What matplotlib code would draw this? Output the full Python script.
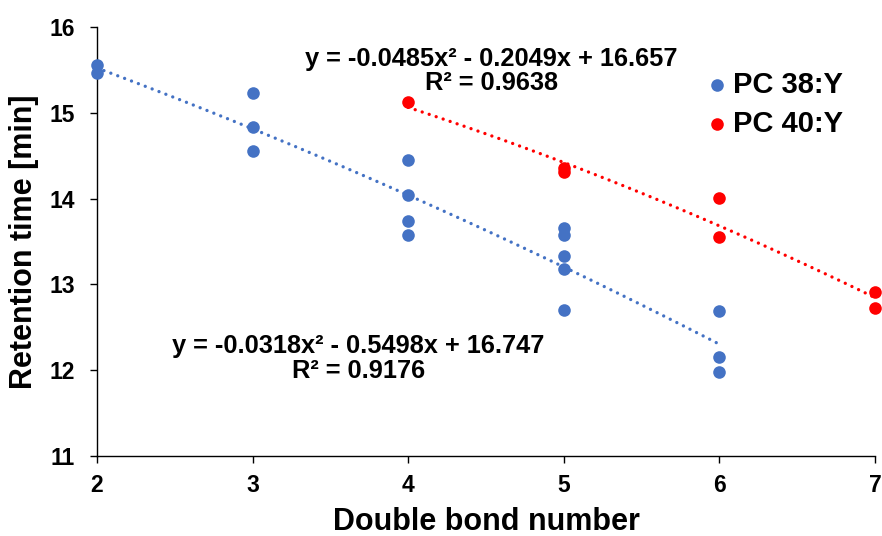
import numpy as np
import matplotlib
matplotlib.use('Agg')
from matplotlib import pyplot as plt

plt.rcParams['font.family'] = ['Liberation Sans', 'DejaVu Sans']
plt.rcParams['font.weight'] = 'bold'

# PC 38:Y
x38 = [2, 2, 3, 3, 3, 4, 4, 4, 4, 5, 5, 5, 5, 5, 6, 6, 6]
y38 = [15.56, 15.46, 15.23, 14.83, 14.55, 14.45, 14.04, 13.74, 13.57,
       13.66, 13.57, 13.33, 13.18, 12.70, 12.69, 12.15, 11.98]
# PC 40:Y
x40 = [4, 5, 5, 6, 6, 7, 7]
y40 = [15.12, 14.36, 14.31, 14.01, 13.55, 12.91, 12.73]

# trendline coefficients (from the equations on the chart)
fit38 = [-0.0318, -0.5498, 16.747]
fit40 = [-0.0485, -0.2049, 16.657]
r2_38 = 0.9176
r2_40 = 0.9638

blue = '#4472C4'
red = '#FF0000'

fig = plt.figure(figsize=(8.82, 5.36), dpi=100)
ax = fig.add_axes([0.11, 0.149, 0.882, 0.801])

dots = (0, (0.01, 2.2))
xs = np.linspace(min(x38), max(x38), 100)
ax.plot(xs, np.polyval(fit38, xs), color=blue, lw=2.4, ls=dots,
        dash_capstyle='round', zorder=2)
xs = np.linspace(min(x40), max(x40), 100)
ax.plot(xs, np.polyval(fit40, xs), color=red, lw=2.4, ls=dots,
        dash_capstyle='round', zorder=2)

ax.scatter(x38, y38, s=82, color=blue, label='PC 38:Y', zorder=3, clip_on=False, linewidths=0)
ax.scatter(x40, y40, s=82, color=red, label='PC 40:Y', zorder=3, clip_on=False, linewidths=0)

ax.set_xlim(2, 7)
ax.set_ylim(11, 16)
ax.set_xticks(range(2, 8))
ax.set_yticks(range(11, 17))
ax.tick_params(length=5, width=1.0)
ax.tick_params(axis='y', pad=11)
ax.tick_params(axis='x', pad=8)
for lab in ax.get_xticklabels() + ax.get_yticklabels():
    lab.set_fontsize(16.5)
    lab.set_fontweight('bold')
ax.spines['top'].set_visible(False)
ax.spines['right'].set_visible(False)
ax.spines['left'].set_linewidth(1.0)
ax.spines['bottom'].set_linewidth(1.0)
ax.set_xlabel('Double bond number', fontsize=22, fontweight='bold', labelpad=7)
ax.set_ylabel('Retention time [min]', fontsize=22, fontweight='bold', labelpad=7)

def eq(c):
    return 'y = %gx² - %gx + %g' % (c[0], -c[1], c[2])

ax.text(4.535, 15.627, eq(fit40), ha='center', va='center', fontsize=18.3, fontweight='bold')
ax.text(4.535, 15.35, 'R² = %.4f' % r2_40, ha='center', va='center', fontsize=18.3, fontweight='bold')
ax.text(3.68, 12.282, eq(fit38), ha='center', va='center', fontsize=18.3, fontweight='bold')
ax.text(3.68, 11.995, 'R² = %.4f' % r2_38, ha='center', va='center', fontsize=18.3, fontweight='bold')

ax.legend(loc='upper left', bbox_to_anchor=(705 / 882, 1 - 71 / 536),
          bbox_transform=fig.transFigure, frameon=False,
          prop={'size': 21, 'weight': 'bold'}, handlelength=0.8,
          handletextpad=0.15, labelspacing=0.38, borderaxespad=0, borderpad=0)

plt.savefig('out.png', dpi=100)
